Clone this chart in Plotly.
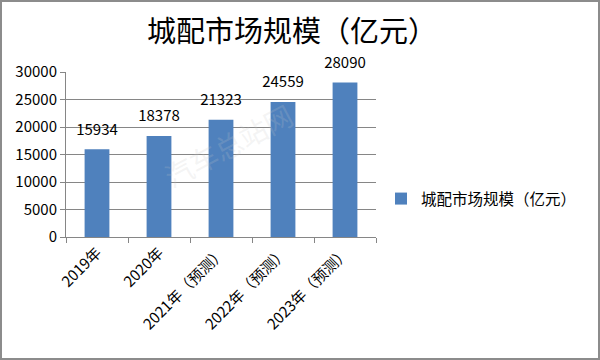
import plotly.graph_objects as go

categories = ["2019年", "2020年", "2021年（预测）", "2022年（预测）", "2023年（预测）"]
values = [15934, 18378, 21323, 24559, 28090]
series_name = "城配市场规模（亿元）"
title_text = "城配市场规模（亿元）"
y_ticks = [0, 5000, 10000, 15000, 20000, 25000, 30000]

W, H = 600, 360
L, R, T, B = 66, 224, 72, 123
pw, ph = W - L - R, H - T - B

def px_x(p):
    return (p - L) / pw

def px_y(p):
    return (H - B - p) / ph

font = "Noto Sans CJK SC, DejaVu Sans, sans-serif"

fig = go.Figure()
fig.add_trace(go.Bar(
    x=categories, y=values, name=series_name,
    marker=dict(color="#4f81bd", line=dict(width=0)),
    width=0.4,
))
fig.add_trace(go.Scatter(
    x=categories, y=values, mode="markers+text", showlegend=False,
    text=[str(v) for v in values], textposition="top center",
    marker=dict(size=16, color="rgba(0,0,0,0)"),
    textfont=dict(size=15, color="#000000", family=font),
    cliponaxis=False, hoverinfo="skip",
))

fig.update_layout(
    width=W, height=H,
    margin=dict(l=L, r=R, t=T, b=B, autoexpand=False),
    paper_bgcolor="white", plot_bgcolor="white",
    title=dict(text=title_text, x=292 / W, xref="container", xanchor="center",
               y=1 - 32 / H, yref="container", yanchor="middle",
               font=dict(size=29, color="#000000", family=font)),
    showlegend=True,
    legend=dict(x=px_x(381), y=px_y(199), xanchor="left", yanchor="middle",
                font=dict(size=15.5, color="#000000", family=font),
                bgcolor="rgba(0,0,0,0)", itemwidth=30),
    font=dict(family=font),
)
fig.update_xaxes(
    range=[-0.5, 4.5], tickangle=-45, tickson="boundaries", automargin=False,
    ticks="outside", ticklen=5, tickcolor="#868686",
    showline=True, linecolor="#868686", linewidth=1,
    showgrid=False, tickfont=dict(size=15, color="#000000", family=font),
)
fig.update_yaxes(
    range=[0, 30000], tickvals=y_ticks, tickformat="d", automargin=False,
    ticks="outside", ticklen=5,
    tickcolor="#868686", showline=True, linecolor="#868686", linewidth=1,
    showgrid=True, gridcolor="#868686", gridwidth=1, zeroline=False,
    tickfont=dict(size=15, color="#000000", family=font),
)
# watermark
fig.add_annotation(text="汽车总站网", x=px_x(228), y=px_y(198), xref="paper", yref="paper",
                   showarrow=False, textangle=-28,
                   font=dict(size=28, color="rgba(200,200,200,0.2)", family=font))
# outer frame
fig.add_shape(type="rect", xref="paper", yref="paper",
              x0=px_x(1), x1=px_x(W - 1), y0=px_y(H - 1), y1=px_y(1),
              line=dict(color="#8c8c8c", width=2), layer="above")

fig.write_html("out.html", config={"displayModeBar": False},
               post_script="document.body.style.margin='0';document.body.style.overflow='hidden';")
